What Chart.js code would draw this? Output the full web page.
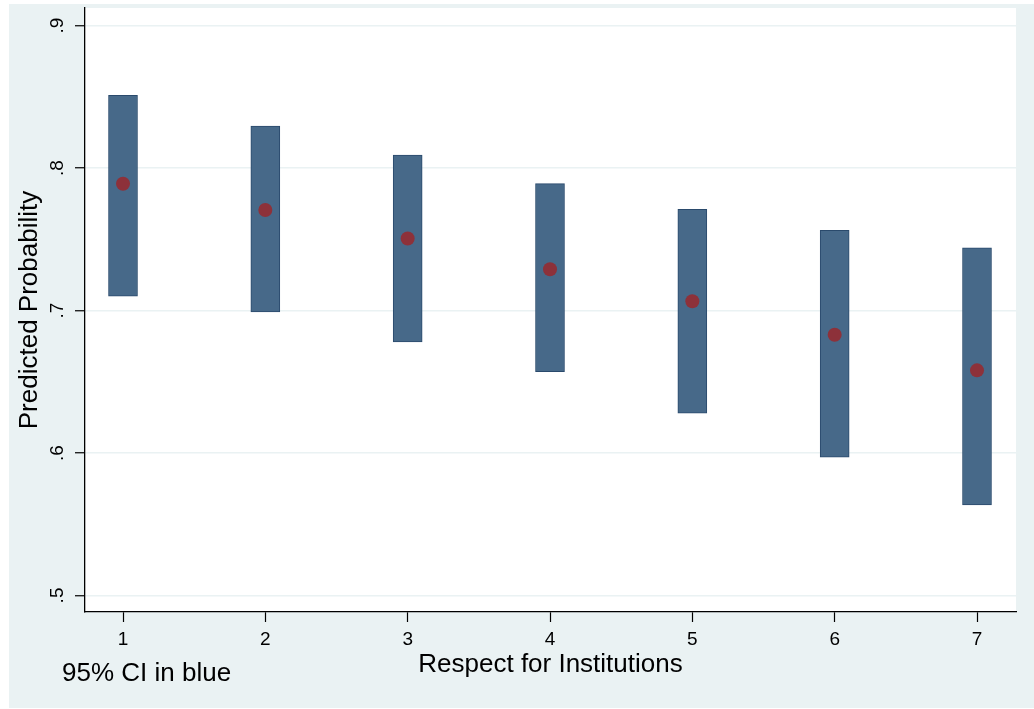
<!DOCTYPE html>
<html>
<head>
<meta charset="utf-8">
<script src="https://cdn.jsdelivr.net/npm/chart.js@4/dist/chart.umd.min.js"></script>
<style>
  html, body { margin: 0; padding: 0; background: #ffffff; }
  #wrap { width: 1034px; height: 709px; }
</style>
</head>
<body>
<div id="wrap"><canvas id="chart" width="1034" height="709"></canvas></div>
<script>
// Respect for Institutions levels (x categories)
const categories = [1, 2, 3, 4, 5, 6, 7];
// Predicted probability at each level
const predicted = [0.789, 0.7705, 0.7505, 0.729, 0.7065, 0.683, 0.658];
// 95% confidence interval bounds
const ciLow  = [0.710, 0.699, 0.678, 0.657, 0.628, 0.597, 0.5635];
const ciHigh = [0.851, 0.8295, 0.809, 0.789, 0.771, 0.7563, 0.744];
// Axis ticks
const yTicks = [0.5, 0.6, 0.7, 0.8, 0.9];
const yTickLabels = ['.5', '.6', '.7', '.8', '.9'];
const xTicks = [1, 2, 3, 4, 5, 6, 7];

const FONT = 'Liberation Sans, Arial, Helvetica, sans-serif';
const PAGE_BG = 'rgb(234,242,243)';

const ciData = categories.map((c, i) => ({ x: c, y: [ciLow[i], ciHigh[i]] }));
const pointData = categories.map((c, i) => ({ x: c, y: predicted[i] }));

// Stata-like background: bluish-gray graph region, white plot region
const backdrop = {
  id: 'backdrop',
  beforeDraw(chart) {
    const { ctx, chartArea: a } = chart;
    ctx.save();
    ctx.fillStyle = '#ffffff';
    ctx.fillRect(0, 0, chart.width, chart.height);
    ctx.fillStyle = PAGE_BG;
    ctx.fillRect(9, 4, chart.width - 9, chart.height - 5);
    ctx.fillStyle = '#ffffff';
    ctx.fillRect(a.left, a.top, a.right - a.left, a.bottom - a.top);
    ctx.restore();
  }
};

// Vertical y tick labels and the note under the axis
const extraText = {
  id: 'extraText',
  afterDraw(chart) {
    const { ctx } = chart;
    const y = chart.scales.y;
    ctx.save();
    ctx.fillStyle = '#000000';
    ctx.font = '19px ' + FONT;
    ctx.textAlign = 'center';
    ctx.textBaseline = 'middle';
    yTicks.forEach((v, i) => {
      const py = y.getPixelForValue(v);
      ctx.save();
      ctx.translate(y.right - 27, py);
      ctx.rotate(-Math.PI / 2);
      ctx.fillText(yTickLabels[i], 0, 0);
      ctx.restore();
    });
    ctx.font = '26px ' + FONT;
    ctx.textAlign = 'left';
    ctx.textBaseline = 'alphabetic';
    ctx.fillText('95% CI in blue', 62, 681);
    ctx.restore();
  }
};

new Chart(document.getElementById('chart'), {
  type: 'bar',
  data: {
    datasets: [
      {
        type: 'scatter',
        label: 'Predicted probability',
        data: pointData,
        order: 0,
        pointRadius: 7,
        pointHoverRadius: 7,
        pointBackgroundColor: 'rgb(141,49,58)',
        pointBorderColor: 'rgb(141,49,58)',
        pointBorderWidth: 0
      },
      {
        type: 'bar',
        label: '95% CI',
        data: ciData,
        order: 1,
        barThickness: 29,
        backgroundColor: 'rgb(71,105,137)',
        borderColor: 'rgb(42,74,108)',
        borderWidth: 1,
        borderSkipped: false
      }
    ]
  },
  plugins: [backdrop, extraText],
  options: {
    responsive: false,
    animation: false,
    events: [],
    layout: { padding: { left: 0, top: 8, right: 18, bottom: 0 } },
    plugins: { legend: { display: false }, tooltip: { enabled: false } },
    scales: {
      x: {
        type: 'linear',
        min: 0.733,
        max: 7.274,
        offset: false,
        afterBuildTicks(scale) { scale.ticks = xTicks.map(v => ({ value: v })); },
        afterFit(scale) { scale.height = 97; },
        ticks: {
          color: '#000000',
          font: { family: FONT, size: 19 },
          padding: 6,
          maxRotation: 0,
          minRotation: 0,
          callback: v => String(v)
        },
        grid: {
          offset: false,
          drawOnChartArea: false,
          drawTicks: true,
          tickLength: 10,
          tickColor: '#000000',
          tickWidth: 1.2
        },
        border: { display: true, color: '#000000', width: 1.3 },
        title: {
          display: true,
          text: 'Respect for Institutions',
          color: '#000000',
          font: { family: FONT, size: 26 },
          padding: { top: 0, bottom: 29 }
        }
      },
      y: {
        type: 'linear',
        min: 0.4884,
        max: 0.9123,
        afterBuildTicks(scale) { scale.ticks = yTicks.map(v => ({ value: v })); },
        afterFit(scale) { scale.width = 85; },
        ticks: { display: false },
        grid: {
          color: PAGE_BG,
          lineWidth: 1.5,
          drawTicks: true,
          tickLength: 10,
          tickColor: '#000000',
          tickWidth: 1.2
        },
        border: { display: true, color: '#000000', width: 1.3 },
        title: {
          display: true,
          text: 'Predicted Probability',
          color: '#000000',
          font: { family: FONT, size: 26 },
          padding: { top: 14, bottom: 0 }
        }
      }
    }
  }
});
</script>
</body>
</html>
